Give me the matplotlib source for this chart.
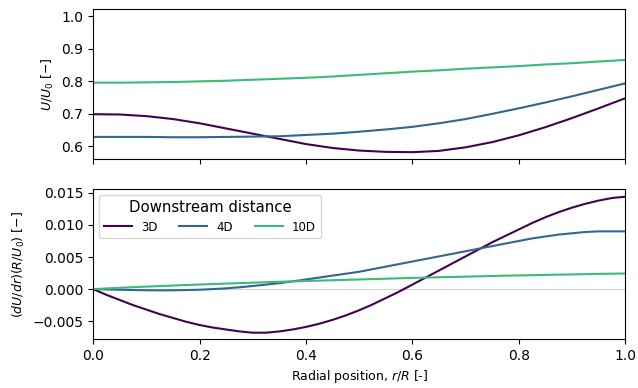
import matplotlib
matplotlib.use("Agg")
import matplotlib.pyplot as plt

labels = ["3D", "4D", "10D"]

# radial positions r/R, coarse grid for the velocity panel
r_u = [0.00, 0.05, 0.10, 0.15, 0.20, 0.25, 0.30, 0.35, 0.40, 0.45, 0.50,
       0.55, 0.60, 0.65, 0.70, 0.75, 0.80, 0.85, 0.90, 0.95, 1.00]

# velocity U/U0
u_3d = [0.698, 0.697, 0.692, 0.683, 0.670, 0.654, 0.638, 0.622, 0.606, 0.594, 0.586,
        0.582, 0.581, 0.585, 0.596, 0.612, 0.633, 0.658, 0.686, 0.716, 0.747]
u_4d = [0.628, 0.628, 0.628, 0.627, 0.627, 0.628, 0.629, 0.630, 0.634, 0.638, 0.644,
        0.651, 0.659, 0.670, 0.683, 0.699, 0.716, 0.734, 0.753, 0.773, 0.793]
u_10d = [0.795, 0.795, 0.796, 0.797, 0.799, 0.801, 0.804, 0.807, 0.810, 0.814, 0.819,
         0.824, 0.829, 0.833, 0.838, 0.842, 0.846, 0.851, 0.855, 0.860, 0.865]

# radial positions r/R, finer grid for the gradient panel
r_g = [0.000, 0.025, 0.050, 0.075, 0.100, 0.125, 0.150, 0.175, 0.200, 0.225,
       0.250, 0.275, 0.300, 0.325, 0.350, 0.375, 0.400, 0.425, 0.450, 0.475,
       0.500, 0.525, 0.550, 0.575, 0.600, 0.625, 0.650, 0.675, 0.700, 0.725,
       0.750, 0.775, 0.800, 0.825, 0.850, 0.875, 0.900, 0.925, 0.950, 0.975, 1.000]

# radial gradient (dU/dr)(R/U0)
g_3d = [0.0, -0.0009, -0.0017, -0.0025, -0.0032, -0.0039, -0.0045, -0.0051, -0.0056,
        -0.0060, -0.0063, -0.0066, -0.0068, -0.0068, -0.0066, -0.0063, -0.0059,
        -0.0054, -0.0048, -0.0041, -0.0033, -0.0024, -0.0014, -0.0004, 0.0007,
        0.0018, 0.0029, 0.0040, 0.0051, 0.0062, 0.0073, 0.0083, 0.0093, 0.0103,
        0.0112, 0.0120, 0.0127, 0.0133, 0.0138, 0.0142, 0.0144]
g_4d = [0.0, -0.00005, -0.0001, -0.00015, -0.00018, -0.0002, -0.00019, -0.00015, -0.0001,
        0.0, 0.00012, 0.00028, 0.00048, 0.0007, 0.00093, 0.0012, 0.0015, 0.0018, 0.0021,
        0.0024, 0.0027, 0.0031, 0.0035, 0.0039, 0.0043, 0.0047, 0.0051, 0.0055,
        0.0059, 0.0063, 0.0067, 0.0071, 0.0075, 0.0079, 0.0082, 0.0085, 0.0087,
        0.0089, 0.0090, 0.0090, 0.0090]
g_10d = [0.0, 0.0001, 0.0002, 0.0003, 0.00039, 0.00047, 0.00055, 0.00063, 0.00071,
         0.00079, 0.00086, 0.00093, 0.0010, 0.00107, 0.00114, 0.0012, 0.00126,
         0.00132, 0.00138, 0.00144, 0.0015, 0.00156, 0.00162, 0.00168, 0.00174,
         0.00179, 0.00184, 0.00189, 0.00194, 0.00199, 0.00204, 0.00209, 0.00213,
         0.00217, 0.00221, 0.00225, 0.00229, 0.00233, 0.00237, 0.0024, 0.00243]

cmap = plt.get_cmap("viridis")
colors = [cmap(0.0), cmap(0.33), cmap(0.68)]

fig, (ax1, ax2) = plt.subplots(2, 1, figsize=(6.38, 3.88), dpi=100, sharex=True)
fig.subplots_adjust(left=0.146, right=0.98, top=0.977, bottom=0.126, hspace=0.2)

for u, c, lab in zip([u_3d, u_4d, u_10d], colors, labels):
    ax1.plot(r_u, u, color=c, lw=1.5, label=lab)
ax1.set_ylim(0.56, 1.022)
ax1.set_yticks([0.6, 0.7, 0.8, 0.9, 1.0])
ax1.set_ylabel(r"$U/U_0$ [$-$]", fontsize=9)

ax2.axhline(0, color="lightgray", lw=0.8, zorder=0)
for g, c, lab in zip([g_3d, g_4d, g_10d], colors, labels):
    ax2.plot(r_g, g, color=c, lw=1.5, label=lab)
ax2.set_ylim(-0.0078, 0.0156)
ax2.set_yticks([-0.005, 0.0, 0.005, 0.010, 0.015])
ax2.set_ylabel(r"$(dU/dr)(R/U_0)$ [$-$]", fontsize=9)
ax2.set_xlim(0, 1)
ax2.set_xticks([0, 0.2, 0.4, 0.6, 0.8, 1.0])
ax2.set_xlabel(r"Radial position, $r/R$ [-]", fontsize=9)

leg = ax2.legend(title="Downstream distance", ncol=3, loc="upper left",
                 fontsize=8.5, title_fontsize=10.7, handlelength=2.35,
                 columnspacing=1.85)

plt.savefig("out.png", dpi=100)
